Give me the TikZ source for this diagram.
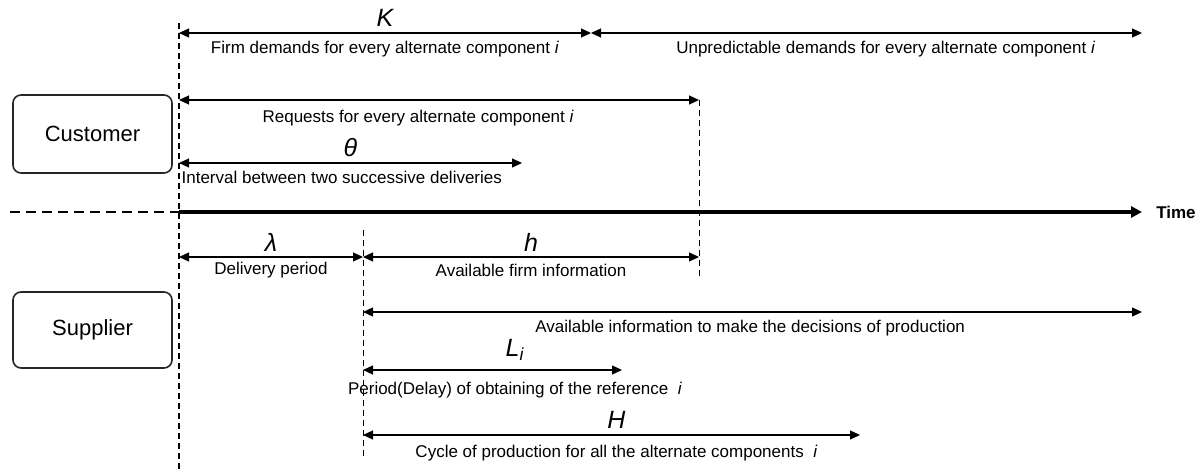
\documentclass[tikz,border=0pt]{standalone}
\usepackage{fontspec}
\setmainfont{Liberation Sans}
\usetikzlibrary{arrows.meta}

\tikzset{
	party/.style={draw=black!85, line width=0.8pt, rounded corners=4pt, minimum width=79.5pt, font=\fontsize{11}{13}\selectfont},
	sym/.style={yshift=7.5pt, inner sep=0pt, font=\fontsize{12.5}{14}\selectfont\itshape},
	txt/.style={yshift=-8pt, inner sep=0pt},
	guide/.style={-, dash pattern=on 3pt off 2pt, line width=0.5pt}
}

\begin{document}
\begin{tikzpicture}[x=0.5pt, y=-0.5pt, line width=0.6pt, font=\fontsize{8.5}{10}\selectfont,
	arrows={Triangle[length=5pt,width=4.5pt]-Triangle[length=5pt,width=4.5pt]}]
	\useasboundingbox (0,0) rectangle (1202,475);

	\node[party, minimum height=39pt] (cust) at (92.5,134) {Customer};
	\node[party, minimum height=38pt] (supp) at (92.5,330) {Supplier};

	% time axis
	\coordinate (tl) at (10,212);
	\coordinate (o) at (179,212);
	\coordinate (tend) at (1142,212);
	\draw[-, dash pattern=on 5pt off 3pt, line width=1.2pt] (tl) -- (o);
	\draw[-{Triangle[length=5.5pt,width=5.5pt]}, line width=1.6pt] (o) -- (tend);
	\node[anchor=west, font=\fontsize{8.5}{10}\selectfont\bfseries] (time) at (1149,212) {Time};

	% guide lines
	\coordinate (g0t) at (179,23);
	\coordinate (g0b) at (179,470);
	\coordinate (g1t) at (363,230);
	\coordinate (g1b) at (363,458);
	\coordinate (g2b) at (699,278);

	% customer side
	\coordinate (k0) at (179,33);
	\coordinate (k1) at (591,33);
	\coordinate (k2) at (1142,33);
	\coordinate (r0) at (179,100);
	\coordinate (r1) at (699,100);
	\coordinate (q0) at (179,163);
	\coordinate (q1) at (522,163);

	\draw[guide, line width=0.7pt] (g0t) -- (g0b);
	\draw[guide] (g1t) -- (g1b);
	\draw[guide] (r1) -- (g2b);

	\draw (k0) to node[sym] (K) {K} node[txt] (firm) {Firm demands for every alternate component \textit{i}} (k1);
	\draw (k1) to node[txt, pos=0.535] (unpred) {Unpredictable demands for every alternate component \textit{i}} (k2);
	\draw (r0) to node[txt, pos=0.46, yshift=-1pt] (req) {Requests for every alternate component \textit{i}} (r1);
	\draw (q0) to node[sym, pos=0.5] (theta) {θ} node[txt, pos=0, anchor=west, xshift=1pt, yshift=1pt] (interval) {Interval between two successive deliveries} (q1);

	% supplier side
	\coordinate (d0) at (179,257);
	\coordinate (d1) at (363,257);
	\coordinate (d2) at (699,257);
	\coordinate (a0) at (363,312);
	\coordinate (a1) at (1142,312);
	\coordinate (l0) at (363,370);
	\coordinate (l1) at (622,370);
	\coordinate (c0) at (363,435);
	\coordinate (c1) at (860,435);

	\draw (d0) to node[sym] (lambda) {λ} node[txt, yshift=1.5pt] (deliv) {Delivery period} (d1);
	\draw (d1) to node[sym] (h) {h} node[txt, yshift=1.5pt] (firminfo) {Available firm information} (d2);
	\draw (a0) to node[txt, pos=0.497] (info) {Available information to make the decisions of production} (a1);
	\draw (l0) to node[sym, pos=0.587, yshift=2.5pt] (L) {L\textsubscript{i}} node[txt, pos=0.587, yshift=-2pt] (delay) {Period(Delay) of obtaining of the reference \ \textit{i}} (l1);
	\draw (c0) to node[sym, pos=0.51] (H) {H} node[txt, pos=0.51, yshift=-1pt] (cycle) {Cycle of production for all the alternate components \ \textit{i}} (c1);
\end{tikzpicture}
\end{document}
